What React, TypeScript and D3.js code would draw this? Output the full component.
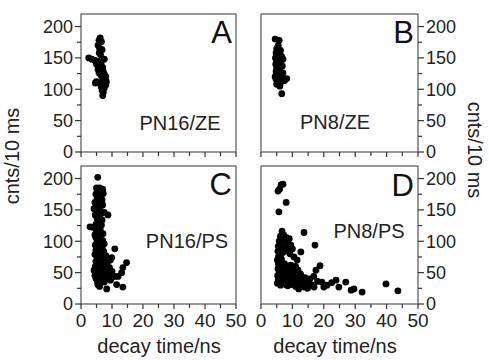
import React from "react";
import * as d3 from "d3";

type Pt = [number, number];

const xTicksMajor = [0, 10, 20, 30, 40, 50];
const xTicksMinor = [5, 15, 25, 35, 45];
const yTicksMajor = [0, 50, 100, 150, 200];
const yTicksMinor = [25, 75, 125, 175];

const panelLetters = ["A", "B", "C", "D"];
const panelNames = ["PN16/ZE", "PN8/ZE", "PN16/PS", "PN8/PS"];

const dataA: Pt[] = [
  [6.2, 182], [5.8, 178], [6.6, 176], [5.5, 170], [6.0, 165], [6.8, 163], [5.9, 158], [6.3, 155],
  [2.5, 150], [3.5, 148], [4.5, 146], [7.5, 148], [5.5, 145], [6.5, 142], [5.0, 140], [6.0, 137],
  [7.0, 135], [5.5, 132], [6.5, 130], [7.2, 128], [5.8, 126], [7.5, 124], [6.5, 122], [8.0, 120],
  [7.0, 118], [7.8, 115], [5.0, 112], [6.0, 110], [7.0, 108], [8.0, 107], [6.5, 104], [7.5, 102],
  [6.8, 98], [7.2, 95], [7.0, 90], [8.2, 112], [4.6, 110],
];

const dataB: Pt[] = [
  [4.5, 180], [5.8, 178], [5.5, 170], [5.0, 165], [6.2, 162], [4.8, 158], [5.5, 155], [6.5, 153],
  [4.6, 150], [5.8, 148], [7.0, 148], [5.0, 145], [6.2, 143], [4.7, 140], [5.5, 138], [6.8, 137],
  [5.0, 134], [6.0, 132], [4.8, 128], [5.8, 126], [7.0, 126], [5.2, 122], [6.3, 120], [8.2, 117],
  [4.8, 116], [7.5, 114], [5.5, 113], [6.2, 110], [5.0, 108], [6.0, 105], [6.6, 93], [4.5, 120],
];

const dataC: Pt[] = [
  [5.4, 202], [5.0, 185], [6.0, 185], [7.0, 183], [5.5, 180], [6.5, 178], [7.2, 176], [4.8, 175],
  [6.0, 172], [5.2, 168], [6.8, 166], [4.5, 162], [5.8, 160], [7.0, 158], [5.0, 155], [4.2, 152],
  [6.2, 150], [5.5, 148], [7.5, 146], [8.7, 142], [4.6, 142], [6.0, 140], [5.2, 136], [6.8, 134],
  [5.8, 130], [4.8, 127], [2.9, 123], [4.0, 122], [6.2, 120], [5.0, 116], [6.5, 113], [5.5, 110],
  [4.8, 106], [6.2, 104], [7.0, 101], [5.2, 100], [6.0, 97], [7.5, 96], [4.6, 94], [5.5, 92],
  [6.8, 90], [10.9, 88], [4.8, 86], [6.2, 85], [7.3, 84], [5.5, 82], [4.5, 79], [6.5, 78],
  [8.0, 77], [5.2, 75], [9.9, 74], [6.0, 72], [7.2, 70], [4.8, 68], [5.8, 66], [14.7, 66],
  [8.5, 64], [6.5, 62], [4.6, 60], [7.5, 60], [9.2, 58], [13.5, 58], [5.5, 57], [6.8, 55],
  [4.2, 54], [8.0, 53], [10.0, 52], [13.1, 50], [5.0, 50], [6.2, 49], [7.2, 47], [9.0, 46],
  [11.0, 44], [12.0, 44], [10.3, 44], [5.5, 44], [4.8, 41], [6.8, 42], [8.2, 40], [9.5, 38],
  [5.2, 37], [6.4, 36], [7.5, 35], [11.5, 31], [5.4, 31], [6.0, 28], [13.5, 27], [8.3, 24],
  [4.5, 46], [6.0, 58], [5.8, 52], [7.8, 68], [6.3, 88], [5.0, 64], [7.0, 80], [6.6, 126],
  [5.3, 126], [6.3, 165], [5.4, 158], [6.6, 145], [4.5, 110], [5.8, 118], [7.1, 112], [9.5, 70],
];

const dataD: Pt[] = [
  [6.4, 190], [7.0, 191], [5.4, 180], [5.9, 183], [8.0, 162], [5.7, 147],
  [13.7, 114], [6.7, 116], [7.2, 110], [6.2, 108], [8.0, 106], [9.0, 104], [7.5, 102], [5.8, 100],
  [8.5, 98], [17.2, 94], [6.5, 96], [9.5, 94], [5.5, 92], [7.8, 90], [6.2, 88], [10.0, 88],
  [8.8, 86], [5.4, 84], [12.7, 83], [7.0, 82], [6.0, 80], [9.2, 80], [5.6, 76],
  [10.5, 75], [6.5, 72], [11.5, 70], [5.2, 70], [6.8, 66],
  [7.5, 64], [5.5, 64], [9.5, 62], [18.8, 61], [6.2, 60], [8.5, 60], [11.0, 60],
  [7.0, 58], [5.4, 56], [9.8, 56], [8.0, 54], [17.5, 54], [6.5, 53], [7.5, 52], [10.5, 52],
  [5.8, 50], [9.0, 50], [12.5, 48], [6.8, 48], [8.2, 46], [12.7, 46], [5.3, 45], [7.2, 44],
  [10.0, 44], [11.5, 42], [6.0, 42], [14.0, 42], [8.8, 41], [15.5, 40], [5.5, 39], [7.0, 38],
  [9.5, 38], [12.0, 38], [15.0, 38], [6.5, 36], [8.0, 35], [10.8, 36], [13.0, 35], [19.4, 35],
  [22.5, 34], [23.9, 38], [27.0, 35], [5.2, 33], [7.5, 33], [11.5, 32], [14.5, 32], [9.5, 31],
  [6.2, 30], [13.0, 30], [16.0, 31], [21.0, 30], [39.8, 32], [8.5, 29], [11.0, 28], [13.7, 27],
  [16.9, 27], [20.0, 27], [24.8, 27], [14.8, 25], [12.0, 24], [28.7, 22], [29.6, 24], [32.2, 19],
  [43.6, 21], [6.8, 40], [6.0, 68], [7.5, 85], [5.8, 58], [10.2, 47], [11.8, 54],
  [9.0, 33], [7.8, 31], [12.5, 40], [16.8, 44], [18.0, 36],
];

const FONT = "'Liberation Sans', Arial, sans-serif";
const AX = "#333";

interface PanelProps {
  data: Pt[];
  x0: number; x1: number; yb: number; yt: number;
  side: "left" | "right";
  xLabels: boolean;
  letter: string; name: string;
  nameX: number; nameY: number; letterY: number;
}

function Panel(p: PanelProps) {
  const x = d3.scaleLinear().domain([0, 50]).range([p.x0, p.x1]);
  const y = d3.scaleLinear().domain([0, 220]).range([p.yb, p.yt]);
  const ax = p.side === "left" ? p.x0 : p.x1;
  const dir = p.side === "left" ? -1 : 1;
  return (
    <g>
      <rect x={p.x0} y={p.yt} width={p.x1 - p.x0} height={p.yb - p.yt} fill="none" stroke="#555" strokeWidth={1.2} />
      {p.data.map((d, i) => (
        <circle key={i} cx={x(d[0])} cy={y(d[1])} r={3.4} fill="#000" />
      ))}
      {xTicksMajor.map((t) => (
        <line key={"xm" + t} x1={x(t)} x2={x(t)} y1={p.yb} y2={p.yb + 5} stroke={AX} strokeWidth={1.2} />
      ))}
      {xTicksMinor.map((t) => (
        <line key={"xn" + t} x1={x(t)} x2={x(t)} y1={p.yb} y2={p.yb + 4} stroke={AX} strokeWidth={1.2} />
      ))}
      {yTicksMajor.map((t) => (
        <line key={"ym" + t} x1={ax} x2={ax + dir * 6} y1={y(t)} y2={y(t)} stroke={AX} strokeWidth={1.2} />
      ))}
      {yTicksMinor.map((t) => (
        <line key={"yn" + t} x1={ax} x2={ax + dir * 4} y1={y(t)} y2={y(t)} stroke={AX} strokeWidth={1.2} />
      ))}
      {yTicksMajor.map((t) => (
        <text key={"yl" + t} x={ax + dir * 8} y={y(t)} dy="0.36em" textAnchor={p.side === "left" ? "end" : "start"}
          fontSize={18} fill="#222" fontFamily={FONT}>{t}</text>
      ))}
      {p.xLabels && xTicksMajor.map((t) => (
        <text key={"xl" + t} x={x(t)} y={p.yb + 23} textAnchor="middle" fontSize={19} fill="#222" fontFamily={FONT}>{t}</text>
      ))}
      <text x={p.x1 - 4} y={p.letterY} textAnchor="end" fontSize={31} fill="#111" fontFamily={FONT}>{p.letter}</text>
      <text x={p.nameX} y={p.nameY} textAnchor="middle" fontSize={20} fill="#222" fontFamily={FONT}>{p.name}</text>
    </g>
  );
}

export default function App() {
  const L = [81, 236];
  const R = [261, 418];
  const top = [152, 14];
  const bot = [304, 166];
  return (
    <svg width={489} height={360} style={{ display: "block", position: "absolute", left: 0, top: 0, background: "#fff" }}>
      <Panel data={dataA} x0={L[0]} x1={L[1]} yb={top[0]} yt={top[1]} side="left" xLabels={false}
        letter={panelLetters[0]} name={panelNames[0]} nameX={180} nameY={130} letterY={43} />
      <Panel data={dataB} x0={R[0]} x1={R[1]} yb={top[0]} yt={top[1]} side="right" xLabels={false}
        letter={panelLetters[1]} name={panelNames[1]} nameX={335} nameY={129} letterY={43} />
      <Panel data={dataC} x0={L[0]} x1={L[1]} yb={bot[0]} yt={bot[1]} side="left" xLabels={true}
        letter={panelLetters[2]} name={panelNames[2]} nameX={187} nameY={248} letterY={195} />
      <Panel data={dataD} x0={R[0]} x1={R[1]} yb={bot[0]} yt={bot[1]} side="right" xLabels={true}
        letter={panelLetters[3]} name={panelNames[3]} nameX={369} nameY={238} letterY={196} />
      <text transform="translate(19,156) rotate(-90)" textAnchor="middle" fontSize={20} fill="#222" fontFamily={FONT}>cnts/10 ms</text>
      <text transform="translate(468,150) rotate(90)" textAnchor="middle" fontSize={20} fill="#222" fontFamily={FONT}>cnts/10 ms</text>
      <text x={159} y={353} textAnchor="middle" fontSize={20} fill="#222" fontFamily={FONT}>decay time/ns</text>
      <text x={335} y={353} textAnchor="middle" fontSize={20} fill="#222" fontFamily={FONT}>decay time/ns</text>
    </svg>
  );
}
